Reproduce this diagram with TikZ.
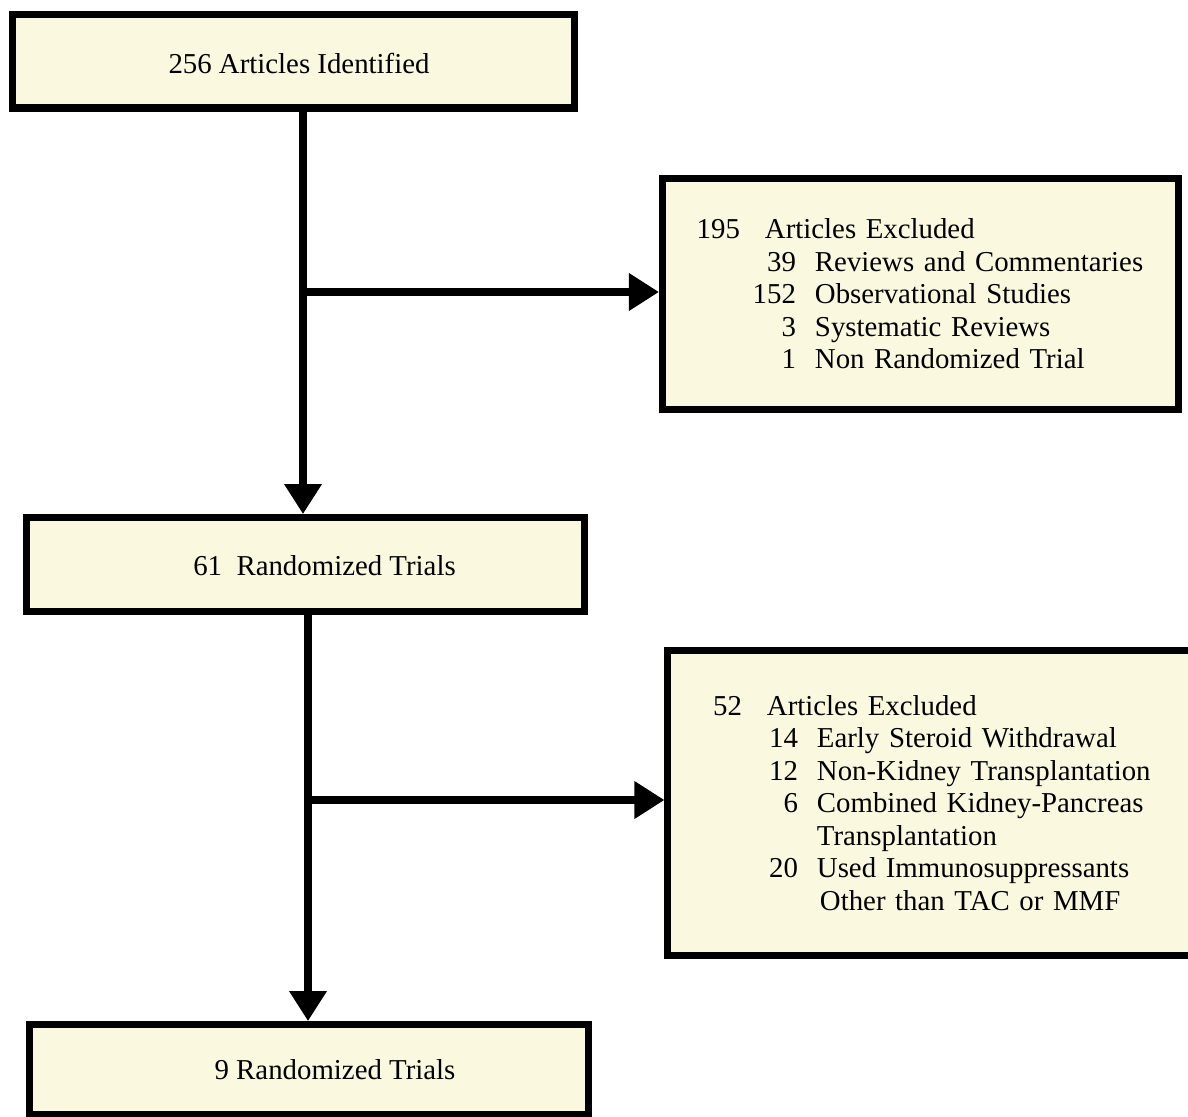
\documentclass[tikz,border=0pt]{standalone}
\usepackage{fontspec}
\setmainfont{Liberation Serif}
\usetikzlibrary{arrows.meta}
\definecolor{cream}{RGB}{251,248,224}
\newcommand{\toprow}[2]{\makebox[1.075cm][r]{#1}\hspace{0.625cm}#2}
\newcommand{\subrow}[2]{\makebox[2.475cm][r]{#1}\hspace{0.475cm}#2}

\begin{document}
\begin{tikzpicture}[x=0.025cm, y=-0.025cm,
  every node/.style={font=\fontsize{20.5}{23.1}\selectfont},
  stage/.style={draw, line width=5pt, fill=cream, inner sep=0pt},
  excl/.style={stage, align=left},
  flow/.style={line width=5pt, -{Triangle[length=0.75cm, width=0.9cm]}}]
  \useasboundingbox (0,0) rectangle (1188,1116);
  \clip (0,0) rectangle (1188,1116);

  % main column
  \node[stage, minimum width=14.025cm, minimum height=2.325cm] (ident) at (293.5,61.5) {};
  \node (identt) at (299,63) {256 Articles Identified};
  \node[stage, minimum width=13.94cm, minimum height=2.36cm] (rand1) at (305.75,564.75) {};
  \node (rand1t) at (324.5,566) {61~~Randomized Trials};
  \node[stage, minimum width=13.95cm, minimum height=2.26cm] (rand2) at (309,1069.75) {};
  \node (rand2t) at (335,1070) {9 Randomized Trials};

  % exclusions
  \node[excl, minimum width=12.9cm, minimum height=5.775cm, inner xsep=0.8625cm, text width=11.175cm] (excl1) at (920.5,294) {%
    \toprow{195}{Articles Excluded}\\
    \subrow{39}{Reviews and Commentaries}\\
    \subrow{152}{Observational Studies}\\
    \subrow{3}{Systematic Reviews}\\
    \subrow{1}{Non Randomized Trial}};
  \node[excl, minimum width=14.05cm, minimum height=7.6cm, inner xsep=0.775cm, text width=12.5cm] (excl2) at (949,803) {%
    \toprow{52}{Articles Excluded}\\
    \subrow{14}{Early Steroid Withdrawal}\\
    \subrow{12}{Non-Kidney Transplantation}\\
    \subrow{6}{Combined Kidney-Pancreas}\\
    \subrow{}{Transplantation}\\
    \subrow{20}{Used Immunosuppressants}\\
    \subrow{}{\hspace{0.075cm}Other than TAC or MMF}};

  % connectors
  \coordinate (br1) at (303,292);
  \coordinate (br2) at (308,800);
  \draw[flow] (ident.south -| br1) -- (rand1.north -| br1);
  \draw[flow] (br1) -- (br1 -| excl1.west);
  \draw[flow] (rand1.south -| br2) -- (rand2.north -| br2);
  \draw[flow] (br2) -- (br2 -| excl2.west);
\end{tikzpicture}
\end{document}
